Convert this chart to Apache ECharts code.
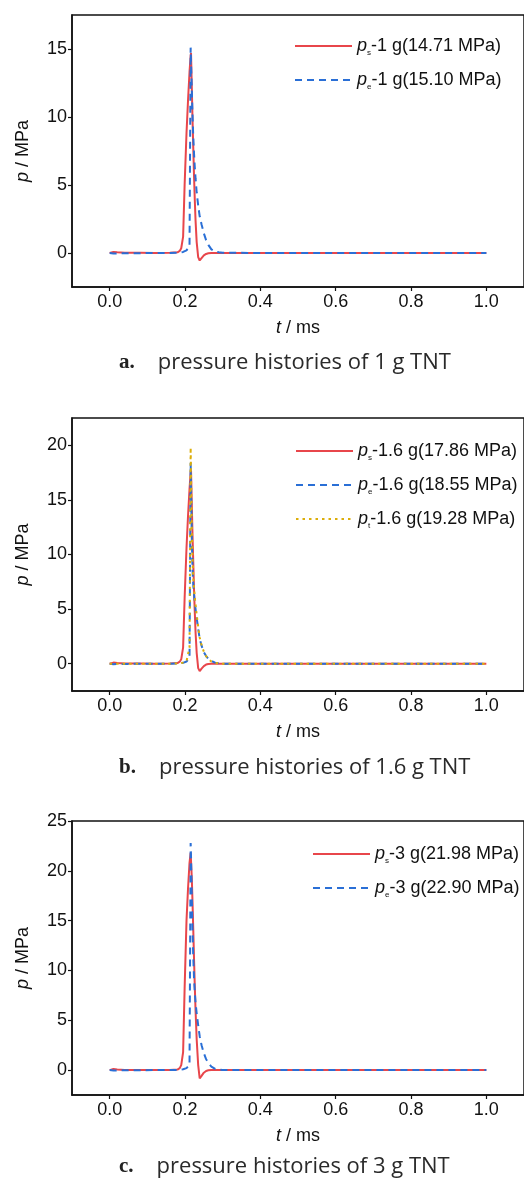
<!DOCTYPE html>
<html>
<head>
<meta charset="utf-8">
<script src="https://cdn.jsdelivr.net/npm/echarts@6/dist/echarts.min.js"></script>
<style>
  html, body { margin: 0; padding: 0; background: #fff; }
  #chart { width: 524px; height: 1182px; }
</style>
</head>
<body>
<div id="chart"></div>
<script>
// time samples (ms), shared by every curve
const tMs = [0, 0.005, 0.01, 0.02, 0.04, 0.08, 0.12, 0.16, 0.18, 0.186, 0.19, 0.195, 0.199, 0.204, 0.208, 0.212,
  0.215, 0.216, 0.218, 0.22, 0.222, 0.224, 0.226, 0.228, 0.231, 0.235, 0.239, 0.244, 0.25, 0.256, 0.262, 0.27,
  0.28, 0.29, 0.3, 0.4, 0.6, 0.8, 1.0];

// a. 1 g TNT
const ps1 = [0, 0.05, 0.08, 0.05, 0.01, 0.02, 0, 0.01, 0.05, 0.15, 0.35, 1.2, 5.0, 8.8, 11.2, 13.3,
  14.5, 14.71, 12.2, 9.8, 7.7, 5.6, 3.9, 2.4, 0.8, -0.3, -0.55, -0.38, -0.18, -0.07, -0.02, 0,
  0, 0, 0, 0, 0, 0, 0];
const pe1 = [0, -0.02, -0.04, -0.03, -0.02, -0.01, 0, 0, 0.02, 0.03, 0.05, 0.08, 0.12, 0.2, 0.3, 0.45,
  15.1, 14.0, 12.1, 10.1, 8.5, 7.3, 6.3, 5.5, 4.45, 3.5, 2.7, 2.1, 1.45, 0.95, 0.6, 0.27,
  0.1, 0.05, 0.02, 0, 0, 0, 0];

// b. 1.6 g TNT
const ps16 = [0, 0.06, 0.1, 0.06, 0.01, 0.02, 0, 0.01, 0.06, 0.18, 0.4, 1.5, 6.0, 10.6, 13.5, 16.0,
  17.5, 17.7, 14.6, 11.7, 9.2, 6.7, 4.7, 2.9, 1.0, -0.4, -0.68, -0.45, -0.22, -0.08, -0.02, 0,
  0, 0, 0, 0, 0, 0, 0];
const pe16 = [0, -0.02, -0.04, -0.03, -0.02, -0.01, 0, 0, 0.02, 0.03, 0.05, 0.08, 0.12, 0.2, 0.3, 0.5,
  18.4, 16.2, 11.6, 8.6, 7.2, 6.3, 5.6, 5.0, 4.2, 3.2, 2.3, 1.65, 1.05, 0.7, 0.45, 0.25,
  0.1, 0.03, 0, 0, 0, 0, 0];
const pt16 = [0, 0, -0.02, 0, 0, 0, 0, 0, 0.02, 0.04, 0.06, 0.1, 0.15, 0.22, 0.3, 1.5,
  19.8, 17.4, 12.5, 9.6, 7.9, 6.9, 6.1, 5.4, 4.5, 3.4, 2.4, 1.7, 1.1, 0.7, 0.45, 0.2,
  0.08, 0.02, 0, 0, 0, 0, 0];

// c. 3 g TNT
const ps3 = [0, 0.07, 0.12, 0.07, 0.01, 0.02, 0, 0.01, 0.05, 0.2, 0.5, 1.8, 8.2, 15.0, 18.2, 20.8,
  21.8, 21.98, 19.3, 16.8, 14.0, 11.1, 8.4, 6.0, 3.1, 0.5, -0.84, -0.58, -0.26, -0.09, -0.02, 0,
  0, 0, 0, 0, 0, 0, 0];
const pe3 = [0, -0.02, -0.04, -0.03, -0.02, -0.01, 0, 0, 0.02, 0.03, 0.05, 0.08, 0.12, 0.2, 0.3, 0.5,
  22.8, 21.4, 17.5, 14.0, 11.3, 9.2, 7.8, 6.8, 5.7, 4.5, 3.4, 2.5, 1.7, 1.1, 0.7, 0.35,
  0.12, 0.04, 0, 0, 0, 0, 0];

// axis ticks and labels
const xTicks = [0, 0.2, 0.4, 0.6, 0.8, 1.0];
const yTicksA = [0, 5, 10, 15];
const yTicksB = [0, 5, 10, 15, 20];
const yTicksC = [0, 5, 10, 15, 20, 25];

const captions = ['a.', 'b.', 'c.'];
const captionTexts = ['pressure histories of 1 g TNT', 'pressure histories of 1.6 g TNT', 'pressure histories of 3 g TNT'];

const RED = '#e8464b';
const BLUE = '#2a6fd6';
const GOLD = '#dcae0a';
const FONT = '"Liberation Sans", Arial, sans-serif';
const FS = 18;

const panels = [
  { top: 15, height: 272, yMin: -2.5, yMax: 17.5, yTicks: yTicksA, legendTop: 32, legendLeft: 289,
    series: [
      { name: 'ps-1 g(14.71 MPa)', data: ps1, style: 'solid' },
      { name: 'pe-1 g(15.10 MPa)', data: pe1, style: 'dashed' }
    ] },
  { top: 418, height: 273, yMin: -2.5, yMax: 22.5, yTicks: yTicksB, legendTop: 437, legendLeft: 290,
    series: [
      { name: 'ps-1.6 g(17.86 MPa)', data: ps16, style: 'solid' },
      { name: 'pe-1.6 g(18.55 MPa)', data: pe16, style: 'dashed' },
      { name: 'pt-1.6 g(19.28 MPa)', data: pt16, style: 'dotted' }
    ] },
  { top: 821, height: 274, yMin: -2.5, yMax: 25, yTicks: yTicksC, legendTop: 840, legendLeft: 307,
    series: [
      { name: 'ps-3 g(21.98 MPa)', data: ps3, style: 'solid' },
      { name: 'pe-3 g(22.90 MPa)', data: pe3, style: 'dashed' }
    ] }
];

const lineStyles = {
  solid: { color: RED, width: 2, type: 'solid' },
  dashed: { color: BLUE, width: 2, type: [7, 5] },
  dotted: { color: GOLD, width: 2, type: [2.5, 4] }
};

const richItalic = {
  i: { fontStyle: 'italic', fontSize: FS, fontFamily: FONT, color: '#111' },
  n: { fontSize: FS, fontFamily: FONT, color: '#111' }
};

const grids = [], xAxes = [], yAxes = [], seriesList = [], legends = [], titles = [];

panels.forEach((p, k) => {
  grids.push({
    left: 72, top: p.top, width: 454, height: p.height,
    show: true, borderColor: '#111', borderWidth: 1.5, backgroundColor: 'transparent'
  });

  xAxes.push({
    gridIndex: k, type: 'value', min: -0.1, max: 1.1,
    axisLine: { show: true, onZero: false, lineStyle: { color: '#111', width: 1.5 } },
    axisTick: { show: true, length: 4, customValues: xTicks, lineStyle: { color: '#111', width: 1.2 } },
    axisLabel: { customValues: xTicks, formatter: v => v.toFixed(1), margin: 6,
      fontSize: FS, fontFamily: FONT, color: '#111' },
    splitLine: { show: false },
    name: '{i|t}{n| / ms}', nameLocation: 'middle', nameGap: 32,
    nameTextStyle: { rich: richItalic }
  });

  yAxes.push({
    gridIndex: k, type: 'value', min: p.yMin, max: p.yMax,
    axisLine: { show: true, onZero: false, lineStyle: { color: '#111', width: 1.5 } },
    axisTick: { show: true, length: 4, customValues: p.yTicks, lineStyle: { color: '#111', width: 1.2 } },
    axisLabel: { customValues: p.yTicks, margin: 5, fontSize: FS, fontFamily: FONT, color: '#111' },
    splitLine: { show: false },
    name: '{i|p}{n| / MPa}', nameLocation: 'middle', nameGap: 40,
    nameTextStyle: { rich: richItalic }
  });

  p.series.forEach(s => {
    seriesList.push({
      name: s.name, type: 'line', xAxisIndex: k, yAxisIndex: k,
      data: tMs.map((t, i) => [t, s.data[i]]),
      symbol: 'none', lineStyle: lineStyles[s.style],
      itemStyle: { color: lineStyles[s.style].color },
      z: s.style === 'solid' ? 3 : (s.style === 'dashed' ? 4 : 5)
    });
  });

  legends.push({
    data: p.series.map(s => s.name),
    orient: 'vertical', left: p.legendLeft, top: p.legendTop,
    itemWidth: 57, itemHeight: 14, itemGap: 14,
    itemStyle: { opacity: 0 },
    formatter: name => {
      const m = name.match(/^p(\w)(.*)$/);
      return '{i|p}{s|' + m[1] + '}{n|' + m[2] + '}';
    },
    textStyle: {
      rich: {
        i: { fontStyle: 'italic', fontSize: FS, fontFamily: FONT, color: '#111', lineHeight: 22 },
        s: { fontSize: 8, fontFamily: FONT, color: '#111', verticalAlign: 'bottom', lineHeight: 13 },
        n: { fontSize: FS, fontFamily: FONT, color: '#111', lineHeight: 22 }
      }
    }
  });

  titles.push({
    text: '{b|' + captions[k] + '}{t|' + captionTexts[k] + '}',
    left: 114, top: [347, 752, 1151][k],
    textStyle: {
      fontWeight: 'normal',
      rich: {
        b: { fontFamily: '"Liberation Serif", serif', fontWeight: 'bold', fontSize: 21, color: '#222' },
        t: { fontFamily: '"Open Sans", sans-serif', fontWeight: 'normal', fontSize: 22, color: '#2a2a2a', padding: [0, 0, 0, 23] }
      }
    }
  });
});

const chart = echarts.init(document.getElementById('chart'));
chart.setOption({
  backgroundColor: '#fff',
  animation: false,
  title: titles,
  grid: grids,
  xAxis: xAxes,
  yAxis: yAxes,
  legend: legends,
  series: seriesList
});
</script>
</body>
</html>
